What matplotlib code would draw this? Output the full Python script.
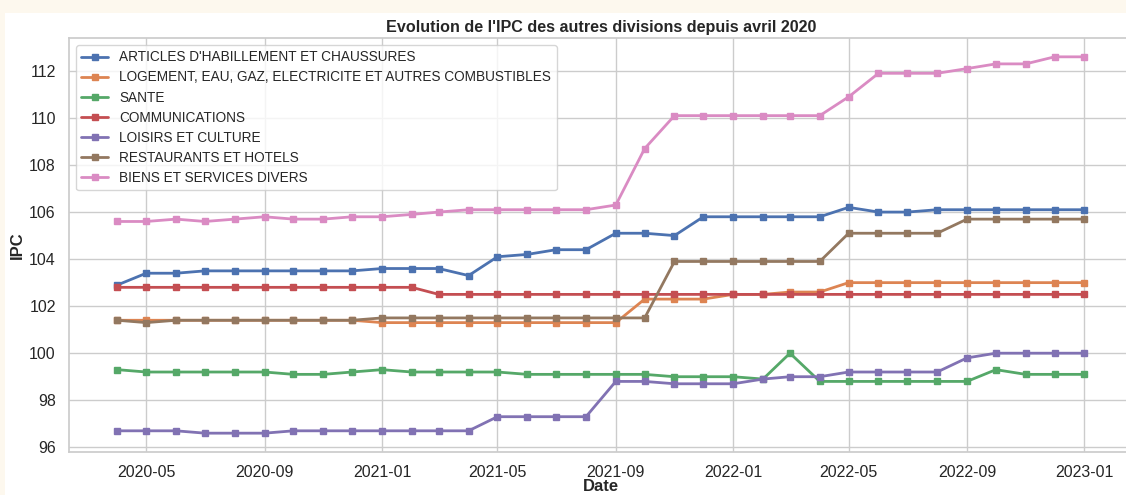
import numpy as np
import pandas as pd
import matplotlib
matplotlib.use("Agg")
import matplotlib.pyplot as plt
import seaborn as sns

# données mensuelles avril 2020 -> janvier 2023
dates = pd.date_range("2020-04-01", "2023-01-01", freq="MS")

habillement = [102.9, 103.4, 103.4, 103.5, 103.5, 103.5, 103.5, 103.5, 103.5,
               103.6, 103.6, 103.6, 103.3, 104.1, 104.2, 104.4, 104.4, 105.1,
               105.1, 105.0, 105.8, 105.8, 105.8, 105.8, 105.8, 106.2, 106.0,
               106.0, 106.1, 106.1, 106.1, 106.1, 106.1, 106.1]
logement = [101.4, 101.4, 101.4, 101.4, 101.4, 101.4, 101.4, 101.4, 101.4,
            101.3, 101.3, 101.3, 101.3, 101.3, 101.3, 101.3, 101.3, 101.3,
            102.3, 102.3, 102.3, 102.5, 102.5, 102.6, 102.6, 103.0, 103.0,
            103.0, 103.0, 103.0, 103.0, 103.0, 103.0, 103.0]
sante = [99.3, 99.2, 99.2, 99.2, 99.2, 99.2, 99.1, 99.1, 99.2,
         99.3, 99.2, 99.2, 99.2, 99.2, 99.1, 99.1, 99.1, 99.1,
         99.1, 99.0, 99.0, 99.0, 98.9, 100.0, 98.8, 98.8, 98.8,
         98.8, 98.8, 98.8, 99.3, 99.1, 99.1, 99.1]
communications = [102.8] * 11 + [102.5] * 23
loisirs = [96.7, 96.7, 96.7, 96.6, 96.6, 96.6, 96.7, 96.7, 96.7,
           96.7, 96.7, 96.7, 96.7, 97.3, 97.3, 97.3, 97.3, 98.8,
           98.8, 98.7, 98.7, 98.7, 98.9, 99.0, 99.0, 99.2, 99.2,
           99.2, 99.2, 99.8, 100.0, 100.0, 100.0, 100.0]
restaurants = [101.4, 101.3, 101.4, 101.4, 101.4, 101.4, 101.4, 101.4, 101.4,
               101.5, 101.5, 101.5, 101.5, 101.5, 101.5, 101.5, 101.5, 101.5,
               101.5, 103.9, 103.9, 103.9, 103.9, 103.9, 103.9, 105.1, 105.1,
               105.1, 105.1, 105.7, 105.7, 105.7, 105.7, 105.7]
divers = [105.6, 105.6, 105.7, 105.6, 105.7, 105.8, 105.7, 105.7, 105.8,
          105.8, 105.9, 106.0, 106.1, 106.1, 106.1, 106.1, 106.1, 106.3,
          108.7, 110.1, 110.1, 110.1, 110.1, 110.1, 110.1, 110.9, 111.9,
          111.9, 111.9, 112.1, 112.3, 112.3, 112.6, 112.6]

series = [
    ("ARTICLES D'HABILLEMENT ET CHAUSSURES", habillement),
    ("LOGEMENT, EAU, GAZ, ELECTRICITE ET AUTRES COMBUSTIBLES", logement),
    ("SANTE", sante),
    ("COMMUNICATIONS", communications),
    ("LOISIRS ET CULTURE", loisirs),
    ("RESTAURANTS ET HOTELS", restaurants),
    ("BIENS ET SERVICES DIVERS", divers),
]

sns.set_theme(style="whitegrid")
plt.rcParams['font.family'] = ['Liberation Sans', 'DejaVu Sans']

fig = plt.figure(figsize=(11.26, 4.95), dpi=100, facecolor='#fdf8ee')
# zone blanche de la capture (bande beige en haut et à gauche)
fig.patches.append(plt.Rectangle((5 / 1126, 0), 1, 1 - 13 / 495,
                                 transform=fig.transFigure, facecolor='white',
                                 edgecolor='none', zorder=-10))
ax = fig.add_axes([0.0613, 0.0869, 0.9447, 0.8363])

for label, vals in series:
    ax.plot(dates, vals, marker='s', markersize=5, linewidth=2, label=label)

ax.set_title("Evolution de l'IPC des autres divisions depuis avril 2020",
             fontsize=11.6, fontweight='bold', pad=4)
ax.set_xlabel('Date', fontsize=12, fontweight='bold', labelpad=-1)
ax.set_ylabel('IPC', fontsize=12, fontweight='bold', labelpad=3)
ax.tick_params(labelsize=11.5)
ax.legend(loc='upper left', fontsize=9.8, labelspacing=0.45)

plt.savefig('out.png', dpi=100, facecolor=fig.get_facecolor())
